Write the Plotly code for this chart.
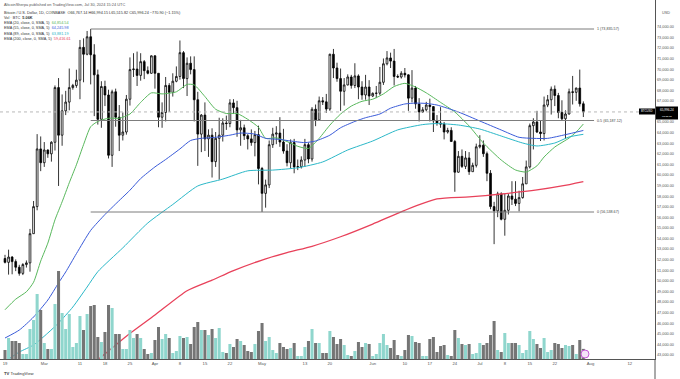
import pandas as pd
import plotly.graph_objects as go

# ---------------- data ----------------
start_date = "2024-02-19"
opens = [52140,51780,52280,51850,51320,50740,51570,51730,54490,57050,62500,
 61200,62400,62040,63130,68300,63800,66100,66930,68300,68500,69000,72100,71450,73100,71400,69500,65300,68400,67600,61900,67900,65500,63800,64100,67200,70000,70050,69450,70750,69900,69650,
 71300,69650,65500,65950,68500,67850,68900,69350,71600,69150,70600,70000,67150,63900,65700,63450,63800,61300,63500,63800,64950,64900,66850,66400,64300,64500,63750,63450,63100,63850,
 60650,58300,59100,62900,63900,64000,63150,62300,61200,63100,60800,60820,61450,62900,61550,66250,65250,67050,66950,66270,71450,70150,69150,67950,68550,69300,68500,69400,68350,67600,68350,
 67500,67750,67770,68800,70550,71100,70800,69350,69300,69650,69500,67300,68250,66750,66000,66200,66650,66500,65150,64950,64850,64100,64250,63200,60300,61800,60850,61650,60350,60950,
 62700,62850,62050,60200,57050,56650,58250,55850,56700,58050,57750,57350,57900,59200,60800,64700,65050,64100,63950,66650,67150,68150,67550,65950,65350,65800,67900,67850,68250,66767.14]
highs = [52490,52980,52370,52060,51550,51700,51960,54940,57580,63900,63680,
 63150,62450,63230,68500,69200,67650,67990,70100,68650,69990,72800,72950,73650,73835.57,72400,70000,68900,68950,68100,68100,68200,66650,65950,67600,71150,71550,71700,71550,70900,70300,71350,
 71350,69650,66900,69300,68720,69650,70300,72750,71750,71150,71250,71250,67900,65800,66900,64350,64450,64100,65450,65400,65650,67200,67200,67050,65250,64800,63900,64350,64200,64700,
 60800,59600,63300,64500,64650,65500,64400,62950,63400,63450,61500,61800,63450,63100,66450,66700,67450,67400,67700,71500,71950,70650,70100,69200,69550,69500,70600,69550,68900,69500,69000,
 67850,68450,70250,71050,71750,71600,71950,69550,69850,70150,69550,69950,68450,67300,66450,66950,67250,66550,65700,66450,65050,64500,64550,63350,62300,62450,62300,62200,61200,63000,
 63800,63300,62250,60500,57500,58450,58400,58250,58250,59450,59450,58550,59850,61400,64900,65400,66100,65150,67450,67600,68400,68500,67800,67100,66150,68200,69400,68300,70000,66994.15]
lows = [51680,50620,50650,50950,50520,50580,51290,50900,54470,56700,60400,
 60800,61660,61300,62350,59000,62800,65700,66150,68100,68280,67200,68800,71350,68600,65600,64800,64500,66550,61600,60800,64600,62300,63300,63850,66600,69300,68450,68950,69100,69550,69600,
 68200,64550,64500,65100,66000,67450,68800,69050,68250,67500,69550,65100,60900,62200,62300,61750,59800,60800,59600,63200,64300,64550,65800,63650,62800,63350,62450,62800,61800,59150,
 56538.67,56950,58800,62600,62950,62700,62050,60850,60650,60200,60500,60650,60800,61150,61300,64650,65150,66650,65900,66100,69200,68850,66100,66600,68500,68200,68250,67200,67150,67150,66650,
 67400,67300,67600,68550,70400,70150,68500,69200,69150,69250,66100,66900,66300,65100,65900,66050,65100,64100,64700,64500,63400,63950,63200,58450,60250,60700,60600,60050,60350,60750,
 62550,61750,59450,56800,53500,56050,55750,54300,56300,57200,57100,56600,57800,59200,60650,62450,64000,63250,63300,66450,65750,66550,65400,65150,63450,65750,66700,67050,66500,65515.82]
closes = [51780,52280,51850,51320,50740,51570,51730,54490,57050,62500,61200,
 62400,62040,63130,68300,63800,66100,66930,68300,68500,69000,72100,71450,73100,71400,69500,65300,68400,67600,61900,67900,65500,63800,64100,67200,70000,70050,69450,70750,69900,69650,71300,
 69650,65500,65950,68500,67850,68900,69350,71600,69150,70600,70000,67150,63900,65700,63450,63800,61300,63500,63800,64950,64900,66850,66400,64300,64500,63750,63450,63100,63850,60650,
 58300,59100,62900,63900,64000,63150,62300,61200,63100,60800,60820,61450,62900,61550,66250,65250,67050,66950,66270,71450,70150,69150,67950,68550,69300,68500,69400,68350,67600,68350,67500,
 67750,67770,68800,70550,71100,70800,69350,69300,69650,69500,67300,68250,66750,66000,66200,66650,66500,65150,64950,64850,64100,64250,63200,60300,61800,60850,61650,60350,60950,62700,
 62850,62050,60200,57050,56650,58250,55850,56700,58050,57750,57350,57900,59200,60800,64700,65050,64100,63950,66650,67150,68150,67550,65950,65350,65800,67900,67850,68250,66767.14,65996.24]
volume_k = [4.5,10.5,9,9,8,2.5,2.5,15,19.5,32.5,24.5,
 8,5,5,27.5,44,23,15,22.5,6,8,21.5,14.5,22.5,26.5,27,11,8.5,13.5,27,25.5,12.5,12.5,5,5,14.5,10.5,12.5,10.5,5,2.5,3,
 9.5,16,10,12.5,10.5,3,4,11.5,10.5,11,7.5,16,18.5,14.5,14.5,12,15,10.5,15.5,3.5,3,7.5,6,10,9,7,4,3.5,7.5,14,
 18,9,11,4.5,3,8,6,5,5.5,8,1.5,1.5,6,9,15,8,8,3,3,14,11,7.5,10,7,2,1.5,4,8.5,6,8,7.5,
 1.5,2.5,8,12.5,7,5.5,9.5,2,1.5,4.5,12,11.5,8.5,8,1.5,1.5,10,11,3.5,6.5,7,2,1.5,14.5,10.5,7.5,7,7.5,2.5,3,
 8,7,8,12,19,4.5,3.5,13,8,8,8,7,3,4.5,14,10,7.5,5.5,10.5,3.5,4.5,8,7.5,5.5,7,6.5,7,2.5,9.5,5.06]

ema20_dates = ["2024-02-19","2024-02-22","2024-02-25","2024-02-27","2024-02-29","2024-03-02","2024-03-04","2024-03-06","2024-03-08","2024-03-10","2024-03-12","2024-03-14","2024-03-16","2024-03-19","2024-03-22","2024-03-25","2024-03-28","2024-03-31","2024-04-03","2024-04-07","2024-04-10","2024-04-12","2024-04-15","2024-04-18","2024-04-21","2024-04-24","2024-04-27","2024-04-30","2024-05-02","2024-05-05","2024-05-08","2024-05-11","2024-05-14","2024-05-17","2024-05-20","2024-05-23","2024-05-26","2024-05-29","2024-06-01","2024-06-04","2024-06-07","2024-06-10","2024-06-13","2024-06-16","2024-06-20","2024-06-24","2024-06-28","2024-07-02","2024-07-07","2024-07-11","2024-07-14","2024-07-17","2024-07-19","2024-07-22","2024-07-26","2024-07-28","2024-07-30"]
ema20_vals = [47300,48300,49000,49900,51900,53600,55800,57500,59300,61000,62900,64600,65100,65400,65400,65800,66900,67800,67700,67900,68600,68550,67450,66250,65850,65850,65300,64550,63500,63550,63200,62750,62550,63500,64750,65800,66550,67000,67200,67700,68400,68700,68350,67800,66900,65990,64670,63060,61450,60510,60320,60900,61740,62680,63530,64100,64854.54]

ema55_dates = ["2024-02-19","2024-02-23","2024-02-27","2024-03-02","2024-03-05","2024-03-07","2024-03-10","2024-03-14","2024-03-18","2024-03-21","2024-03-25","2024-03-28","2024-04-01","2024-04-04","2024-04-08","2024-04-11","2024-04-14","2024-04-18","2024-04-22","2024-04-25","2024-04-29","2024-05-02","2024-05-06","2024-05-09","2024-05-13","2024-05-16","2024-05-20","2024-05-23","2024-05-27","2024-05-30","2024-06-03","2024-06-06","2024-06-10","2024-06-13","2024-06-16","2024-06-19","2024-06-25","2024-07-01","2024-07-07","2024-07-12","2024-07-16","2024-07-20","2024-07-25","2024-07-30"]
ema55_vals = [44630,45380,46610,48220,49830,50870,52600,54800,56300,57300,58600,59700,60800,61500,62500,63300,63500,63600,63800,64000,63900,63500,63400,63250,63100,63250,63800,64500,65100,65450,65800,66350,66750,66830,66800,66650,65990,65140,64290,63600,63500,63500,63850,64245.98]

ema89_dates = ["2024-02-19","2024-02-23","2024-02-27","2024-03-02","2024-03-05","2024-03-09","2024-03-13","2024-03-16","2024-03-23","2024-03-30","2024-04-06","2024-04-13","2024-04-20","2024-04-27","2024-05-04","2024-05-11","2024-05-18","2024-05-25","2024-06-01","2024-06-08","2024-06-15","2024-06-19","2024-06-25","2024-07-01","2024-07-07","2024-07-13","2024-07-17","2024-07-22","2024-07-26","2024-07-30"]
ema89_vals = [42400,43300,43970,45100,46050,47560,49450,50900,53150,55500,57250,59000,59650,60430,60500,60720,61270,62400,63250,64300,64800,64900,64760,64380,63720,63060,62780,63060,63630,63881.19]

ema200_dates = ["2024-03-12","2024-03-16","2024-03-24","2024-04-01","2024-04-10","2024-04-17","2024-04-23","2024-05-01","2024-05-08","2024-05-15","2024-05-23","2024-06-01","2024-06-10","2024-06-19","2024-06-28","2024-07-07","2024-07-17","2024-07-24","2024-07-30"]
ema200_vals = [41800,42600,44800,46800,49100,50100,51000,52000,52700,53300,54200,55400,56700,57770,57960,58240,58620,59000,59416.61]

fib_levels = [73835.57, 65187.12, 56538.67]
fib_labels = ["1 (73,835.57)", "0.5 (65,187.12)", "0 (56,538.67)"]
fib_start, fib_end = "2024-03-14", "2024-08-02"

price_ticks = list(range(43000, 75000, 1000))
date_ticks = ["2024-02-19","2024-03-01","2024-03-11","2024-03-18","2024-03-25","2024-04-01","2024-04-08","2024-04-15","2024-04-22","2024-05-01","2024-05-13","2024-05-20","2024-06-01","2024-06-10","2024-06-17","2024-06-24","2024-07-01","2024-07-08","2024-07-15","2024-07-22","2024-08-01","2024-08-12"]
date_tick_text = ["19","Mar","11","18","25","Apr","8","15","22","May","13","20","Jun","10","17","24","Jul","8","15","22","Aug","12"]

last_price = 65996.24

# ---------------- figure ----------------
W, H = 680, 379
ML, MR, MT, MB = 0, 25, 0, 20
PW, PH = W - ML - MR, H - MT - MB
FONT = "Liberation Sans"

dates = pd.date_range(start_date, periods=len(closes), freq="D")

UP_VOL, DN_VOL = "#8fd6cd", "#757575"
vol_colors = [UP_VOL if c >= o else DN_VOL for o, c in zip(opens, closes)]

fig = go.Figure()

fig.add_trace(go.Bar(x=dates, y=volume_k, marker=dict(color=vol_colors, line=dict(width=0)),
                     yaxis="y2", showlegend=False, hoverinfo="skip"))

ema_style = [(ema20_dates, ema20_vals, "#58b85c", 1),
             (ema55_dates, ema55_vals, "#3a5bd9", 1),
             (ema89_dates, ema89_vals, "#2bb8c8", 1),
             (ema200_dates, ema200_vals, "#e8415a", 1.3)]
for d, v, col, w in ema_style:
    fig.add_trace(go.Scatter(x=pd.to_datetime(d), y=v, mode="lines",
                             line=dict(color=col, width=w, shape="spline", smoothing=0.6),
                             showlegend=False, hoverinfo="skip"))

fig.add_trace(go.Candlestick(x=dates, open=opens, high=highs, low=lows, close=closes,
                             increasing=dict(fillcolor="white", line=dict(color="black", width=0.8)),
                             decreasing=dict(fillcolor="black", line=dict(color="black", width=0.8)),
                             whiskerwidth=0, showlegend=False, hoverinfo="skip"))

# fib lines
for lvl, lab in zip(fib_levels, fib_labels):
    fig.add_shape(type="line", x0=fib_start, x1=fib_end, y0=lvl, y1=lvl, xref="x", yref="y",
                  line=dict(color="#7d7d7d", width=1))
    fig.add_annotation(x=fib_end, y=lvl, xref="x", yref="y", text=lab, showarrow=False,
                       xanchor="left", yanchor="middle", xshift=2, borderpad=0,
                       font=dict(size=3.7, color="#444", family=FONT))

# last price dotted line
fig.add_shape(type="line", x0=0, x1=1, xref="paper", y0=last_price, y1=last_price, yref="y",
              line=dict(color="#b8b8b8", width=1, dash="dot"))

x0 = pd.Timestamp(start_date) - pd.Timedelta(days=1.4)
x1 = pd.Timestamp(start_date) + pd.Timedelta(days=182.07)
y_lo, y_hi = 42645, 76577

fig.update_layout(
    width=W, height=H, margin=dict(l=ML, r=MR, t=MT, b=MB),
    paper_bgcolor="white", plot_bgcolor="white",
    bargap=0.15, showlegend=False,
    font=dict(family=FONT, color="#555"),
    xaxis=dict(range=[x0, x1], rangeslider=dict(visible=False), showgrid=False, zeroline=False,
               tickvals=pd.to_datetime(date_ticks), ticktext=date_tick_text, ticks="",
               tickfont=dict(size=4.2, color="#555"), showline=True, linecolor="#555", linewidth=1),
    yaxis=dict(range=[y_lo, y_hi], side="right", showgrid=False, zeroline=False,
               showticklabels=False, ticks="", showline=True, linecolor="#555", linewidth=1),
    yaxis2=dict(range=[0, PH / 2], overlaying="y", visible=False, fixedrange=True),
)

def px(xp):
    return xp / PW
def py(yp):
    return (PH - yp) / PH

def note(xp, yp, text, size=4.5, color="#333", anchor="left"):
    fig.add_annotation(x=px(xp), y=py(yp), xref="paper", yref="paper", text=text, showarrow=False,
                       xanchor=anchor, yanchor="middle", borderpad=0,
                       font=dict(size=size, color=color, family=FONT))

# price-scale labels (the one hidden under the last-price tag is not drawn, as in the original)
for t in price_ticks:
    if abs(t - last_price) < 500:
        continue
    fig.add_annotation(x=1, y=t, xref="paper", yref="y", text=f"{t:,.2f}", showarrow=False,
                       xanchor="left", yanchor="middle", xshift=1, borderpad=0,
                       font=dict(size=3.8, color="#555", family=FONT))

note(3, 4.3, "AltcoinSherpa published on TradingView.com, Jul 30, 2024 15:24 UTC", 3.9, "#555")
note(3, 12.7, "Bitcoin / U.S. Dollar, 1D, COINBASE  O66,767.14 H66,994.15 L65,515.82 C65,996.24 −770.90 (−1.15%)", 3.8, "#333")
note(3, 17.9, "Vol · BTC  <b>5.06K</b>", 3.8, "#333")
note(3, 23.1, "EMA (20, close, 0, SMA, 5)  <span style='color:#58b85c'>64,854.54</span>", 3.8, "#333")
note(3, 28.3, "EMA (55, close, 0, SMA, 5)  <span style='color:#3a5bd9'>64,245.98</span>", 3.8, "#333")
note(3, 33.5, "EMA (89, close, 0, SMA, 5)  <span style='color:#2bb8c8'>63,881.19</span>", 3.8, "#333")
note(3, 38.7, "EMA (200, close, 0, SMA, 5)  <span style='color:#e8415a'>59,416.61</span>", 3.8, "#333")

note(661, 13.5, "USD", 3.8, "#555")
note(3, 373, "<b>TV</b> TradingView", 4.2, "#333")

# axis separator continuing into the date strip
fig.add_shape(type="line", xref="paper", yref="paper", x0=1, x1=1, y0=py(359), y1=py(379),
              line=dict(color="#555", width=1))

# price tag boxes
fig.add_shape(type="rect", xref="paper", yref="paper", x0=px(639), x1=px(655), y0=py(114.5), y1=py(108.5),
              fillcolor="black", line=dict(width=0))
note(647, 111.5, "BTCUSD", 2.8, "white", "center")
fig.add_shape(type="rect", xref="paper", yref="paper", x0=px(656), x1=px(678), y0=py(119.5), y1=py(106.5),
              fillcolor="black", line=dict(width=0))
note(667, 109.6, "65,996.24", 3.1, "white", "center")
note(667, 116.4, "08:35:18", 2.5, "white", "center")

# marker icon on the last volume bar
fig.add_shape(type="circle", xref="paper", yref="paper", x0=px(581), x1=px(589), y0=py(358), y1=py(350),
              fillcolor="#f3e3f7", line=dict(color="#c45ad6", width=1))

fig.write_html("out.html", config={"displayModeBar": False},
               post_script="document.body.style.margin='0';document.body.style.padding='0';")
